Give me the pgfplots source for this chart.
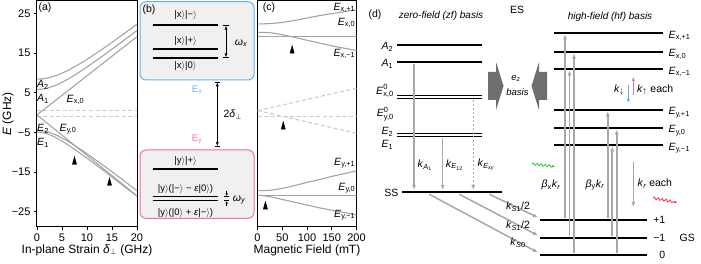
\documentclass[border=0pt]{standalone}
\usepackage{fontspec}
\setmainfont{Liberation Sans}
\usepackage{amsmath}
\usepackage{pgfplots}
\pgfplotsset{compat=1.18}
\usetikzlibrary{arrows.meta,decorations.pathmorphing}
\definecolor{cgray}{HTML}{A4A4A4}
\definecolor{cdash}{HTML}{CDCDCD}
\definecolor{cblue}{HTML}{66B2F0}
\definecolor{cpink}{HTML}{F06EB0}
\definecolor{cbox}{HTML}{F0F0F0}
\definecolor{carrow}{HTML}{A8A8A8}
\definecolor{cbig}{HTML}{6E6E6E}
\definecolor{cgreen}{HTML}{22C022}
\definecolor{cred}{HTML}{FF2020}
\newcommand{\ket}[1]{|#1$\rangle$}
\newcommand{\Es}[1]{\textit{E}$_{\text{#1}}$}
\newcommand{\fs}[1]{\fontsize{#1}{#1}\selectfont}
\newcommand{\Ezero}[1]{\textit{E}\rlap{\raisebox{4.6pt}{\fs{7.5}0}}\raisebox{-2.8pt}{\fs{7.5}#1}}
\pgfplotsset{
  panel/.style={scale only axis, anchor=south west, tick align=outside,
    major tick length=3pt, axis line style={line width=1pt},
    tick style={black, line width=0.8pt}, xtick pos=bottom, ytick pos=left,
    ymin=-28.84, ymax=28.09, height=226pt,
    /pgf/number format/assume math mode=true,
    ticklabel style={font=\fs{11}}, label style={font=\fs{12}}},
  curve/.style={cgray, line width=1.1pt, no marks, smooth},
  dsh/.style={cdash, line width=1.1pt, dash pattern=on 4pt off 2.5pt, no marks},
  tri/.style={only marks, mark=triangle*, mark size=2.4pt, mark options={black, fill=black, yscale=2.1}},
  lev/.style={black, line width=1.6pt, no marks},
}
\begin{document}
\begin{tikzpicture}[font=\fs{10.5}, >={Latex[length=4pt,width=3pt]},
  garrow/.style={carrow, line width=1.3pt, -{Latex[length=5pt,width=4pt]}},
  uarrow/.style={carrow, line width=1.7pt, -{Latex[length=5pt,width=4.5pt]}}]
\path[use as bounding box] (0,0) rectangle (701pt,264pt);

% ---------------- (a) ----------------
\begin{axis}[panel, at={(37pt,37pt)}, width=100pt,
  xmin=0, xmax=20, xtick={0,5,10,15,20},
  ytick={-25,-15,-5,5,15,25}, yticklabels={−25,−15,−5,5,15,25},
  xlabel={In-plane Strain \textit{δ}$_{\perp}$ (GHz)},
  ylabel={\textit{E} (GHz)},
  xlabel style={at={(axis description cs:0.5,-0.1018)}, anchor=center},
  ylabel style={at={(axis description cs:-0.29,0.5)}, anchor=center}]
\addplot[dsh] coordinates {(0,0.5) (20,0.5)};
\addplot[dsh] coordinates {(0,-1.05) (20,-1.05)};
% A2
\addplot[curve] coordinates {(0,8.4) (1,8.47) (2,8.66) (3,8.98) (4,9.4) (5,9.91) (6,10.5) (7,11.16) (8,11.87) (9,12.62) (10,13.4) (12,15.05) (14,16.78) (16,18.57) (18,20.4) (20,22.26)};
% A1
\addplot[curve] coordinates {(0,5.8) (1,5.88) (2,6.12) (3,6.51) (4,7.01) (5,7.61) (6,8.29) (7,9.02) (8,9.8) (9,10.62) (10,11.46) (12,13.22) (14,15.03) (16,16.89) (18,18.77) (20,20.68)};
% Ex0
\addplot[curve] coordinates {(0,-0.6) (20,19.1)};
% Ey0
\addplot[curve] coordinates {(0,-0.6) (20,-21.0)};
% E2
\addplot[curve] coordinates {(0,-4.5) (1,-4.59) (2,-4.85) (3,-5.26) (4,-5.79) (5,-6.42) (6,-7.12) (7,-7.88) (8,-8.68) (9,-9.52) (10,-10.38) (12,-12.17) (14,-14.0) (16,-15.88) (18,-17.78) (20,-19.7)};
% E1
\addplot[curve] coordinates {(0,-4.9) (1,-5.02) (2,-5.35) (3,-5.85) (4,-6.49) (5,-7.21) (6,-8.0) (7,-8.84) (8,-9.71) (9,-10.61) (10,-11.52) (12,-13.38) (14,-15.28) (16,-17.21) (18,-19.15) (20,-21.1)};
\addplot[tri] coordinates {(7.5,-12.4) (14.5,-17.7)};
\end{axis}

% ---------------- (c) ----------------
\begin{axis}[panel, at={(257.5pt,37pt)}, width=99pt,
  xmin=0, xmax=200, xtick={0,50,100,150,200}, ytick=\empty,
  xlabel={Magnetic Field (mT)},
  xlabel style={at={(axis description cs:0.5,-0.1018)}, anchor=center}]
\addplot[dsh] coordinates {(0,-1.05) (200,-1.05)};
\addplot[dsh] coordinates {(0,0.5) (200,6.1)};
\addplot[dsh] coordinates {(0,0.5) (200,-5.25)};
\addplot[curve] coordinates {(0,22.3) (25,22.4) (50,22.7) (75,23.2) (100,23.8) (125,24.4) (150,24.9) (175,25.4) (200,25.9)};
\addplot[curve] coordinates {(0,19.1) (200,19.1)};
\addplot[curve] coordinates {(0,20.2) (25,20.1) (50,19.6) (75,18.9) (100,18.2) (125,17.5) (150,16.8) (175,16.2) (200,15.6)};
\addplot[curve] coordinates {(0,-19.7) (25,-19.6) (50,-19.1) (75,-18.4) (100,-17.6) (125,-16.9) (150,-16.1) (175,-15.4) (200,-14.7)};
\addplot[curve] coordinates {(0,-21.0) (200,-21.0)};
\addplot[curve] coordinates {(0,-20.8) (25,-21.2) (50,-21.9) (75,-22.6) (100,-23.3) (125,-24.0) (150,-24.6) (175,-25.2) (200,-25.8)};
\addplot[tri] coordinates {(70,15.6) (52,-3.55) (16,-23.7)};
\end{axis}

% ---------------- overlay: labels, (b), (d) ----------------
\begin{axis}[at={(0pt,0pt)}, anchor=south west, scale only axis,
  width=701pt, height=264pt, xmin=0, xmax=701, ymin=0, ymax=264,
  y dir=reverse, hide axis, clip=false]
% labels of (a)
\node at (45,8) {(a)};
\node[anchor=west, inner sep=0.5pt] at (36.5,85) {\textit{A}$_{\text{2}}$};
\node[anchor=west, inner sep=0.5pt] at (36.5,99) {\textit{A}$_{\text{1}}$};
\node[anchor=west, inner sep=0.5pt] at (66,100) {\Es{x,0}};
\node[anchor=west, inner sep=0.5pt] at (36.5,129) {\textit{E}$_{\text{2}}$};
\node[anchor=west, inner sep=0.5pt] at (36.5,143) {\textit{E}$_{\text{1}}$};
\node[anchor=west, inner sep=0.5pt] at (59,129) {\Es{y,0}};
% labels of (c)
\node at (269,8) {(c)};
\node[anchor=east, inner sep=0.5pt] at (356,8) {\Es{x,+1}};
\node[anchor=east, inner sep=0.5pt] at (356,23) {\Es{x,0}};
\node[anchor=east, inner sep=0.5pt] at (356,54) {\Es{x,−1}};
\node[anchor=east, inner sep=0.5pt] at (356,163) {\Es{y,+1}};
\node[anchor=east, inner sep=0.5pt] at (356,188) {\Es{y,0}};
\node[anchor=east, inner sep=0.5pt] at (356,215) {\Es{y,−1}};

% ---------------- (b) ----------------
\draw[cblue, line width=1pt, fill=cbox, rounded corners=6pt] (140,1.7) rectangle (254,80);
\draw[cpink, line width=1pt, fill=cbox, rounded corners=6pt] (140,150) rectangle (254,218.3);
\node at (149,10) {(b)};
\addplot[lev] coordinates {(152.7,25) (218.3,25)};
\addplot[lev] coordinates {(152.7,49) (218.3,49)};
\addplot[lev] coordinates {(152.7,58) (218.3,58)};
\node[font=\fs{9.5}] at (185.5,15) {\ket{x}\ket{−}};
\node[font=\fs{9.5}] at (185.5,41.5) {\ket{x}\ket{+}};
\node[font=\fs{9.5}] at (185.5,66.5) {\ket{x}\ket{0}};
\draw[|<->|, line width=0.6pt] (226,25) -- (226,58);
\node at (241,43) {\textit{ω}$_{\textit{x}}$};
\node[text=cblue, font=\fs{9.5}] at (197,90) {E$_{\text{x}}$};
\node[text=cpink, font=\fs{9.5}] at (197,139) {E$_{\text{y}}$};
\draw[|<->|, line width=0.6pt] (217.3,81.7) -- (217.3,146.7);
\node[anchor=west] at (220,115) {2\textit{δ}$_{\perp}$};
\addplot[lev] coordinates {(152.7,169) (218.3,169)};
\addplot[lev] coordinates {(152.7,196.5) (218.3,196.5)};
\addplot[lev] coordinates {(152.7,200.5) (218.3,200.5)};
\node[font=\fs{9.5}] at (185.5,161.5) {\ket{y}\ket{+}};
\node[font=\fs{9.5}] at (185.5,189) {\ket{y}(\ket{−} − \textit{ε}\ket{0})};
\node[font=\fs{9.5}] at (185.5,213) {\ket{y}(\ket{0} + \textit{ε}\ket{−})};
\draw[->|, line width=0.6pt, >={Latex[length=2.5pt,width=2.5pt]}] (226.7,191) -- (226.7,196.5);
\draw[->|, line width=0.6pt, >={Latex[length=2.5pt,width=2.5pt]}] (226.7,206.5) -- (226.7,200.5);
\node at (239,200) {\textit{ω}$_{\textit{y}}$};

% ---------------- (d) ----------------
\node at (375,15) {(d)};
\node[font=\fs{10}\itshape] at (441,16) {zero-field (zf) basis};
\node[font=\fs{10.5}] at (517,10) {ES};
\node[font=\fs{10}\itshape] at (610,17) {high-field (hf) basis};
% zero-field levels
\addplot[lev] coordinates {(397,45) (482,45)};
\addplot[lev] coordinates {(397,62) (482,62)};
\addplot[lev] coordinates {(397,95.5) (482,95.5)};
\addplot[lev] coordinates {(397,98.5) (482,98.5)};
\addplot[lev] coordinates {(397,133.5) (482,133.5)};
\addplot[lev] coordinates {(397,136.5) (482,136.5)};
\addplot[lev] coordinates {(402,192) (502,192)};
\node[anchor=east, inner sep=0.5pt] at (394,47) {\textit{A}$_{\text{2}}$};
\node[anchor=east, inner sep=0.5pt] at (394,64) {\textit{A}$_{\text{1}}$};
\node[anchor=east, inner sep=0.5pt] at (394,91) {\Ezero{x,0}};
\node[anchor=east, inner sep=0.5pt] at (394,114) {\Ezero{y,0}};
\node[anchor=east, inner sep=0.5pt] at (394,132) {\textit{E}$_{\text{2}}$};
\node[anchor=east, inner sep=0.5pt] at (394,145) {\textit{E}$_{\text{1}}$};
\node[anchor=east, inner sep=0.5pt] at (399,192.7) {SS};
\draw[garrow] (414,64) -- (414,190);
\draw[garrow] (442.7,138) -- (442.7,190);
\draw[garrow, dash pattern=on 2.5pt off 1.5pt] (473.3,100) -- (473.3,190);
\node at (425,165) {\textit{k}$_{\textit{A}_{\text{1}}}$};
\node at (454.5,165) {\textit{k}$_{\textit{E}_{\text{12}}}$};
\node at (486,165) {\textit{k}$_{\textit{E}_{\textit{xy}}}$};
% basis arrows
\fill[cbig] (488,72) -- (496,72) -- (496,62) -- (503.5,86) -- (496,110) -- (496,100) -- (488,100) -- cycle;
\fill[cbig] (547,72) -- (539,72) -- (539,62) -- (531.5,86) -- (539,110) -- (539,100) -- (547,100) -- cycle;
\node[font=\fs{9.5}] at (516,78) {\textit{e}$_{\textit{z}}$};
\node[font=\fs{9.5}\itshape] at (517.5,92) {basis};
% ground state
\addplot[lev] coordinates {(540,220) (647,220)};
\addplot[lev] coordinates {(540,238) (647,238)};
\addplot[lev] coordinates {(540,255) (647,255)};
\node[anchor=east, inner sep=0.5pt] at (666,220) {+1};
\node[anchor=east, inner sep=0.5pt] at (666,238) {−1};
\node[anchor=east, inner sep=0.5pt] at (666,255) {0};
\node[anchor=west, inner sep=0.5pt] at (679,238) {GS};
\draw[garrow, line width=1.5pt] (489.3,194.3) -- (538,217.5);
\draw[garrow, line width=1.5pt] (459.3,194.3) -- (538,235.5);
\draw[garrow, line width=1.5pt] (429.3,194.3) -- (538,252.5);
\node at (518,207) {\textit{k}$_{\textit{S}\text{1}}$/2};
\node at (518,226) {\textit{k}$_{\textit{S}\text{1}}$/2};
\node at (518,243) {\textit{k}$_{\textit{S}\text{0}}$};
% high-field ES levels
\addplot[lev] coordinates {(554,33) (663,33)};
\addplot[lev] coordinates {(554,52) (663,52)};
\addplot[lev] coordinates {(554,69) (663,69)};
\addplot[lev] coordinates {(554,110) (663,110)};
\addplot[lev] coordinates {(554,128) (663,128)};
\addplot[lev] coordinates {(554,145) (663,145)};
\node[anchor=west, inner sep=0.5pt] at (668,36) {\Es{x,+1}};
\node[anchor=west, inner sep=0.5pt] at (668,54.5) {\Es{x,0}};
\node[anchor=west, inner sep=0.5pt] at (668,72) {\Es{x,−1}};
\node[anchor=west, inner sep=0.5pt] at (668,112.5) {\Es{y,+1}};
\node[anchor=west, inner sep=0.5pt] at (668,130.5) {\Es{y,0}};
\node[anchor=west, inner sep=0.5pt] at (668,148) {\Es{y,−1}};
% optical arrows
\draw[uarrow] (565,218) -- (565,34.5);
\draw[uarrow] (569.5,236) -- (569.5,70.5);
\draw[uarrow] (574,253.5) -- (574,53.5);
\draw[uarrow] (607.7,218) -- (607.7,111.5);
\draw[uarrow] (612.3,236) -- (612.3,146.5);
\draw[uarrow] (616.7,253.5) -- (616.7,129.5);
\node at (551,185) {\textit{β}$_{\text{x}}$\textit{k}$_{\textit{r}}$};
\node at (595,185) {\textit{β}$_{\text{y}}$\textit{k}$_{\textit{r}}$};
\draw[garrow] (633.3,161.7) -- (633.3,207);
\node[anchor=west, inner sep=0.5pt] at (637,184) {\textit{k}$_{\textit{r}}$ each};
\draw[cblue, line width=1.4pt, -{Latex[length=4pt,width=3.5pt]}] (628.3,85) -- (628.3,103);
\draw[cpink, line width=1.4pt, -{Latex[length=4pt,width=3.5pt]}] (633.3,95) -- (633.3,77);
\node[anchor=east, inner sep=0.5pt] at (625,90) {\textit{k}$_{\downarrow}$};
\node[anchor=west, inner sep=0.5pt] at (636.5,90) {\textit{k}$_{\uparrow}$ each};
\draw[cgreen, line width=0.7pt, decorate, decoration={snake, amplitude=1.2pt, segment length=4pt, post length=2.5pt}, -{Latex[length=2.5pt,width=2.5pt]}] (532,164) -- (555,166.5);
\draw[cred, line width=0.7pt, decorate, decoration={snake, amplitude=1.2pt, segment length=4pt, post length=2.5pt}, -{Latex[length=2.5pt,width=2.5pt]}] (653,198) -- (677,202.5);
\end{axis}
\end{tikzpicture}
\end{document}
